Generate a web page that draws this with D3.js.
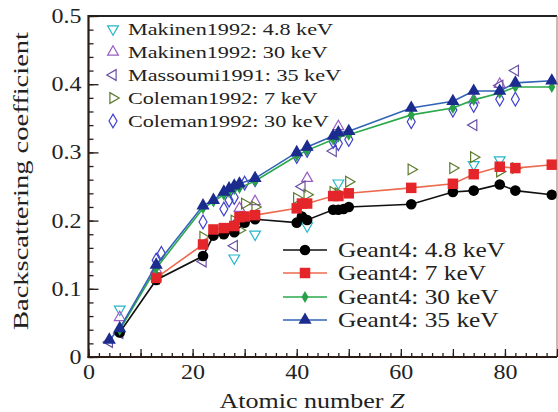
<!DOCTYPE html>
<html><head><meta charset="utf-8">
<script src="https://cdn.jsdelivr.net/npm/d3@7"></script>
<style>
body{margin:0;background:#fff}
svg{display:block}
svg text{font-family:"Liberation Serif","DejaVu Serif",serif !important;fill:#222}
</style>
</head><body>
<svg id="c" width="558" height="412"></svg>
<script>
// ---- tick labels ----
const xTickLabels = [0, 20, 40, 60, 80];
const yTickLabels = [0, 0.1, 0.2, 0.3, 0.4, 0.5];

// ---- Geant4 simulations ----
const g48Z = [6, 13, 22, 24, 26, 28, 30, 32, 40, 41, 42, 47, 48, 49, 50, 62, 70, 74, 79, 82, 89];
const g48V = [0.036, 0.113, 0.148, 0.178, 0.180, 0.183, 0.197, 0.202, 0.197, 0.206, 0.201, 0.216, 0.216, 0.217, 0.220, 0.224, 0.242, 0.244, 0.253, 0.244, 0.238];
const g7Z = [13, 22, 24, 26, 28, 29, 30, 32, 40, 41, 42, 47, 48, 50, 62, 70, 74, 79, 82, 89];
const g7V = [0.116, 0.165, 0.187, 0.189, 0.192, 0.205, 0.206, 0.208, 0.218, 0.225, 0.225, 0.236, 0.236, 0.240, 0.248, 0.254, 0.268, 0.279, 0.277, 0.282];
const g30Z = [6, 13, 22, 24, 26, 27, 28, 29, 32, 40, 42, 47, 48, 50, 62, 70, 74, 79, 82, 89];
const g30V = [0.040, 0.130, 0.218, 0.228, 0.238, 0.242, 0.246, 0.248, 0.258, 0.295, 0.303, 0.319, 0.323, 0.326, 0.355, 0.365, 0.377, 0.387, 0.396, 0.396];
const g35Z = [4, 6, 13, 22, 24, 26, 27, 28, 29, 32, 40, 42, 47, 48, 50, 62, 70, 74, 79, 82, 89];
const g35V = [0.025, 0.042, 0.135, 0.222, 0.230, 0.242, 0.247, 0.251, 0.254, 0.262, 0.300, 0.308, 0.324, 0.329, 0.331, 0.365, 0.375, 0.390, 0.390, 0.402, 0.405];

// ---- experiments ----
const mak48Z = [6, 28, 32, 42, 48, 74, 79];
const mak48V = [0.070, 0.145, 0.180, 0.192, 0.255, 0.282, 0.289];
const mak30Z = [6, 13, 29, 32, 42, 48, 74, 79];
const mak30V = [0.058, 0.128, 0.218, 0.228, 0.262, 0.338, 0.377, 0.400];
const mas35Z = [4, 6, 13, 22, 28, 29, 41, 47, 74, 79, 82];
const mas35V = [0.022, 0.035, 0.115, 0.140, 0.163, 0.200, 0.250, 0.302, 0.340, 0.398, 0.420];
const col7Z = [13, 22, 26, 28, 29, 30, 32, 40, 42, 47, 48, 50, 62, 70, 74, 79, 82];
const col7V = [0.120, 0.176, 0.182, 0.200, 0.186, 0.225, 0.220, 0.233, 0.238, 0.242, 0.240, 0.257, 0.275, 0.277, 0.293, 0.272, 0.277];
const col30Z = [13, 14, 22, 26, 27, 28, 29, 30, 32, 40, 42, 47, 48, 50, 62, 70, 74, 79, 82];
const col30V = [0.142, 0.152, 0.198, 0.217, 0.230, 0.234, 0.252, 0.255, 0.260, 0.294, 0.303, 0.316, 0.313, 0.319, 0.345, 0.362, 0.369, 0.378, 0.378];

const expLabels = ["Makinen1992: 4.8 keV", "Makinen1992: 30 keV", "Massoumi1991: 35 keV", "Coleman1992: 7 keV", "Coleman1992: 30 keV"];
const simLabels = ["Geant4: 4.8 keV", "Geant4: 7 keV", "Geant4: 30 keV", "Geant4: 35 keV"];

const FONT = '"Liberation Serif","DejaVu Serif",serif';
const svg = d3.select("#c");
const L = 88.5, R = 557, T = 16, B = 357;
const x = d3.scaleLinear().domain([0, 90]).range([L, R]);
const y = d3.scaleLinear().domain([0, 0.5]).range([B, T]);

function stretchTo(sel, w) {
  sel.attr("textLength", w).attr("lengthAdjust", "spacingAndGlyphs");
}
function stretchBy(sel, f) {
  sel.each(function () {
    const w = this.getComputedTextLength();
    d3.select(this).attr("textLength", w * f).attr("lengthAdjust", "spacingAndGlyphs");
  });
}

const exps = [
  {Z: mak48Z, V: mak48V, type: d3.symbolTriangle, rot: 180, color: "#27b6c9", size: 50},
  {Z: mak30Z, V: mak30V, type: d3.symbolTriangle, rot: 0, color: "#9a5cc2", size: 50},
  {Z: mas35Z, V: mas35V, type: d3.symbolTriangle, rot: -90, color: "#6a50a2", size: 50},
  {Z: col7Z, V: col7V, type: d3.symbolTriangle, rot: 90, color: "#5c7a2c", size: 50},
  {Z: col30Z, V: col30V, type: d3.symbolDiamond, rot: 0, color: "#4040cc", size: 55}
];
const sims = [
  {Z: g48Z, V: g48V, line: "#111", mark: "#000", type: d3.symbolCircle, size: 88},
  {Z: g7Z, V: g7V, line: "#ec6a4e", mark: "#e4252a", type: d3.symbolSquare, size: 110},
  {Z: g30Z, V: g30V, line: "#2aa84a", mark: "#27a047", type: d3.symbolDiamond, size: 42},
  {Z: g35Z, V: g35V, line: "#3163b6", mark: "#1b2b8e", type: d3.symbolTriangle, size: 75}
];

exps.forEach(s => {
  const sym = d3.symbol().type(s.type).size(s.size);
  svg.append("g").selectAll("path").data(s.Z.map((z, i) => [z, s.V[i]])).join("path")
    .attr("d", sym)
    .attr("transform", d => `translate(${x(d[0])},${y(d[1])}) rotate(${s.rot})`)
    .attr("fill", "none").attr("stroke", s.color).attr("stroke-width", 1.2);
});

const line = d3.line().x(d => x(d[0])).y(d => y(d[1]));
sims.forEach(s => {
  const pts = s.Z.map((z, i) => [z, s.V[i]]);
  svg.append("path").attr("d", line(pts)).attr("fill", "none")
    .attr("stroke", s.line).attr("stroke-width", 1.6);
});
sims.forEach(s => {
  const pts = s.Z.map((z, i) => [z, s.V[i]]);
  const sym = d3.symbol().type(s.type).size(s.size);
  svg.append("g").selectAll("path").data(pts).join("path")
    .attr("d", sym)
    .attr("transform", d => `translate(${x(d[0])},${y(d[1])})`)
    .attr("fill", s.mark);
});

// frame
svg.append("line").attr("x1", L).attr("x2", R).attr("y1", T).attr("y2", T).attr("stroke", "#222").attr("stroke-width", 2);
svg.append("line").attr("x1", R).attr("x2", R).attr("y1", T).attr("y2", B).attr("stroke", "#9a7262").attr("stroke-width", 1);

// x axis
const gxm = svg.append("g").attr("transform", `translate(0,${B})`).call(d3.axisBottom(x).tickValues(d3.range(0, 91, 2)).tickSize(-4).tickFormat(""));
const gxM = svg.append("g").attr("transform", `translate(0,${B})`).call(d3.axisBottom(x).tickValues(d3.range(0, 91, 10)).tickSize(-8).tickFormat(""));
[gxm, gxM].forEach(g => { g.select(".domain").remove(); g.selectAll("line").attr("stroke", "#2a1c16").attr("stroke-width", 1.3); });
const gxl = svg.append("g").attr("transform", `translate(0,${B})`)
  .call(d3.axisBottom(x).tickValues(xTickLabels).tickSize(0).tickPadding(8).tickFormat(d3.format("d")));
gxl.attr("font-family", FONT);
gxl.select(".domain").remove();
gxl.selectAll("text").attr("font-size", 20).attr("fill", "#222").attr("font-family", FONT);
stretchBy(gxl.selectAll("text"), 1.2);

// y axis
const gym = svg.append("g").attr("transform", `translate(${L},0)`).call(d3.axisLeft(y).tickValues(d3.range(0, 0.501, 0.02)).tickSize(-5).tickFormat(""));
const gyM = svg.append("g").attr("transform", `translate(${L},0)`).call(d3.axisLeft(y).tickValues(yTickLabels).tickSize(-10).tickFormat(""));
[gym, gyM].forEach(g => { g.select(".domain").remove(); g.selectAll("line").attr("stroke", "#2a1c16").attr("stroke-width", 1.3); });
const gyl = svg.append("g").attr("transform", `translate(${L},0)`)
  .call(d3.axisLeft(y).tickValues(yTickLabels).tickSize(0).tickPadding(7).tickFormat(d => d === 0 ? "0" : d3.format(".1f")(d)));
gyl.attr("font-family", FONT);
gyl.select(".domain").remove();
gyl.selectAll("text").attr("font-size", 20).attr("fill", "#222").attr("font-family", FONT);
stretchBy(gyl.selectAll("text"), 1.2);

// axis lines
svg.append("line").attr("x1", L).attr("x2", L).attr("y1", T - 1).attr("y2", B + 1).attr("stroke", "#2a1c16").attr("stroke-width", 2.2);
svg.append("line").attr("x1", L - 1).attr("x2", R).attr("y1", B).attr("y2", B).attr("stroke", "#2a1c16").attr("stroke-width", 2.2);

// axis titles
const xt = svg.append("text").attr("x", 312).attr("y", 408).attr("text-anchor", "middle").attr("font-size", 21).attr("font-family", FONT);
xt.append("tspan").text("Atomic number ");
xt.append("tspan").attr("font-style", "italic").text("Z");
stretchTo(xt, 185);
const yt = svg.append("text").attr("transform", "translate(28,181) rotate(-90)").attr("text-anchor", "middle")
  .attr("font-size", 21).attr("font-family", FONT).text("Backscattering coefficient");
stretchTo(yt, 298);

// legend 1
const leg1Y = [29, 52, 75, 98, 121];
const leg1 = svg.append("g");
exps.forEach((s, i) => {
  leg1.append("path").attr("d", d3.symbol().type(s.type).size(s.size)())
    .attr("transform", `translate(113,${leg1Y[i]}) rotate(${s.rot})`)
    .attr("fill", "none").attr("stroke", s.color).attr("stroke-width", 1.2);
});
const l1t = leg1.selectAll("text").data(expLabels).join("text")
  .attr("x", 128).attr("y", (d, i) => leg1Y[i]).attr("dy", "0.35em").attr("font-size", 17).attr("font-family", FONT).text(d => d);
{
  const f = 205 / l1t.node().getComputedTextLength();
  stretchBy(l1t, f);
}

// legend 2
const leg2Y = [250, 273, 297, 320];
const leg2 = svg.append("g");
sims.forEach((s, i) => {
  leg2.append("line").attr("x1", 283).attr("x2", 327).attr("y1", leg2Y[i]).attr("y2", leg2Y[i])
    .attr("stroke", s.line).attr("stroke-width", 1.6);
  leg2.append("path").attr("d", d3.symbol().type(s.type).size(s.size)())
    .attr("transform", `translate(305,${leg2Y[i]})`).attr("fill", s.mark);
});
const l2t = leg2.selectAll("text").data(simLabels).join("text")
  .attr("x", 338).attr("y", (d, i) => leg2Y[i]).attr("dy", "0.35em").attr("font-size", 21).attr("font-family", FONT).text(d => d);
{
  const f = 167 / l2t.node().getComputedTextLength();
  stretchBy(l2t, f);
}
</script>
</body></html>
